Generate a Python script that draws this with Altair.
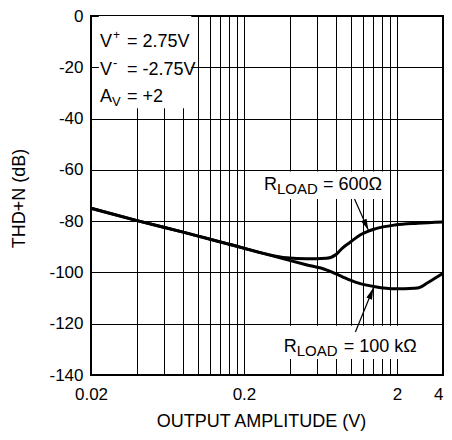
import json
import altair as alt
import pandas as pd

# ---------------- data ----------------
amp_600 = [0.02, 0.04, 0.08, 0.16, 0.38, 0.51, 0.69, 0.80, 0.88, 0.97, 1.18, 1.44, 1.94, 2.73, 4.0]
thd_600 = [-75.0, -79.8, -84.3, -89.0, -94.3, -94.7, -94.5, -93.0, -90.5, -88.6, -85.0, -83.0, -81.5, -80.8, -80.3]

amp_100k = [0.02, 0.04, 0.08, 0.16, 0.38, 0.51, 0.69, 0.80, 0.88, 1.07, 1.44, 1.94, 2.6, 2.85, 3.1, 3.5, 4.0]
thd_100k = [-75.0, -79.8, -84.3, -89.0, -95.0, -97.0, -99.0, -100.6, -101.7, -103.8, -105.6, -106.4, -106.2, -105.7, -104.4, -102.5, -100.3]

x_grid = [0.02, 0.04, 0.06, 0.08, 0.1, 0.12, 0.14, 0.16, 0.18, 0.2,
          0.4, 0.6, 0.8, 1.0, 1.2, 1.4, 1.6, 1.8, 2, 4]
x_tick_labels = [0.02, 0.2, 2, 4]
y_ticks = [-140, -120, -100, -80, -60, -40, -20, 0]

x_title = "OUTPUT AMPLITUDE (V)"
y_title = "THD+N (dB)"

FONT = "Liberation Sans"
FS = 18
W, H = 352, 359

# ---------------- scales / axes ----------------
x_scale = alt.Scale(type="log", domain=[0.02, 4], nice=False)
y_scale = alt.Scale(domain=[-140, 0], nice=False, zero=False)

label_expr = f"indexof({json.dumps(x_tick_labels)}, datum.value) >= 0 ? '' + datum.value : ''"

x_axis = alt.Axis(values=x_grid, labelExpr=label_expr, title=x_title, grid=True, ticks=False,
                  domain=False, labelOverlap=False, labelFlush=False, labelPadding=11,
                  labelAlign={"condition": {"test": "datum.value >= 4", "value": "right"}, "value": "center"},
                  titleX=170, titleY=51, titleBaseline="alphabetic", titleAlign="center")
y_axis = alt.Axis(values=y_ticks, labelExpr="'' + datum.value", title=y_title, grid=True, ticks=False,
                  domain=False, labelPadding=8, titleX=-72, titleY=182, titleBaseline="middle",
                  titleAlign="center")


def X(field="x"):
    return alt.X(f"{field}:Q", scale=x_scale, axis=x_axis)


def Y(field="y"):
    return alt.Y(f"{field}:Q", scale=y_scale, axis=y_axis)


# ---------------- curves ----------------
curves = pd.DataFrame({
    "x": amp_600 + amp_100k,
    "y": thd_600 + thd_100k,
    "load": ["600"] * len(amp_600) + ["100k"] * len(amp_100k),
})
lines = alt.Chart(curves).mark_line(color="black", strokeWidth=3, interpolate="monotone").encode(
    x=X(), y=Y(), detail="load:N")

# ---------------- white boxes behind annotations ----------------
boxes = pd.DataFrame({
    "x": [0.0225, 0.255, 0.342],
    "x2": [0.0905, 1.72, 3.01],
    "y": [0.0, -60.6, -120.8],
    "y2": [-36.0, -71.4, -133.8],
})
box_layer = alt.Chart(boxes).mark_rect(fill="white", stroke=None).encode(
    x=X(), x2="x2:Q", y=Y(), y2="y2:Q")


def piece(x, y, text, dx=0, dy=0, size=FS):
    df = pd.DataFrame({"x": [x], "y": [y], "t": [text]})
    return alt.Chart(df).mark_text(align="left", baseline="alphabetic", dx=dx, dy=dy,
                                   fontSize=size, font=FONT, color="black").encode(
        x=X(), y=Y(), text="t:N")


xa = 0.0229
texts = [
    piece(xa, -12.1, "V"), piece(xa, -12.1, "+", dx=13, dy=-8, size=12), piece(xa, -12.1, "= 2.75V", dx=27),
    piece(xa, -23.0, "V"), piece(xa, -23.0, "-", dx=13, dy=-8, size=13), piece(xa, -23.0, "= -2.75V", dx=27),
    piece(xa, -33.5, "A"), piece(xa, -33.5, "V", dx=12, dy=4, size=13), piece(xa, -33.5, "= +2", dx=27),
    piece(0.27, -67.9, "R"), piece(0.27, -67.9, "LOAD", dx=13, dy=4, size=15), piece(0.27, -67.9, "= 600Ω", dx=59),
    piece(0.364, -131.0, "R"), piece(0.364, -131.0, "LOAD", dx=13, dy=4, size=15), piece(0.364, -131.0, "= 100 kΩ", dx=60),
]

# ---------------- arrows ----------------
arrows = pd.DataFrame({
    "x": [1.056, 1.07],
    "y": [-71.4, -123.2],
    "x2": [1.30, 1.40],
    "y2": [-83.5, -106.2],
    "ang": [155.7, 21.8],
})
arrow_lines = alt.Chart(arrows).mark_rule(color="black", strokeWidth=1.2).encode(
    x=X(), x2="x2:Q", y=Y(), y2="y2:Q")
heads = pd.DataFrame({"x": arrows["x2"], "y": arrows["y2"], "ang": arrows["ang"]})
arrow_heads = alt.Chart(heads).mark_point(shape="M0,0L-0.55,2L0.55,2Z", filled=True, color="black",
                                          size=121, opacity=1).encode(
    x=X(), y=Y(), angle=alt.Angle("ang:Q", scale=None))

chart = alt.layer(box_layer, lines, arrow_lines, arrow_heads, *texts).properties(
    width=W, height=H,
    autosize=alt.AutoSizeParams(type="none"),
    padding={"left": 83, "top": 8, "right": 1, "bottom": 57},
).configure_view(stroke="black", strokeWidth=2).configure_axis(
    gridColor="black", gridOpacity=1, gridWidth=1,
    labelFont=FONT, titleFont=FONT, labelFontSize=17, titleFontSize=FS,
    labelColor="black", titleColor="black", titleFontWeight="normal")

chart.save("out.html", embed_options={"renderer": "svg", "actions": False})
